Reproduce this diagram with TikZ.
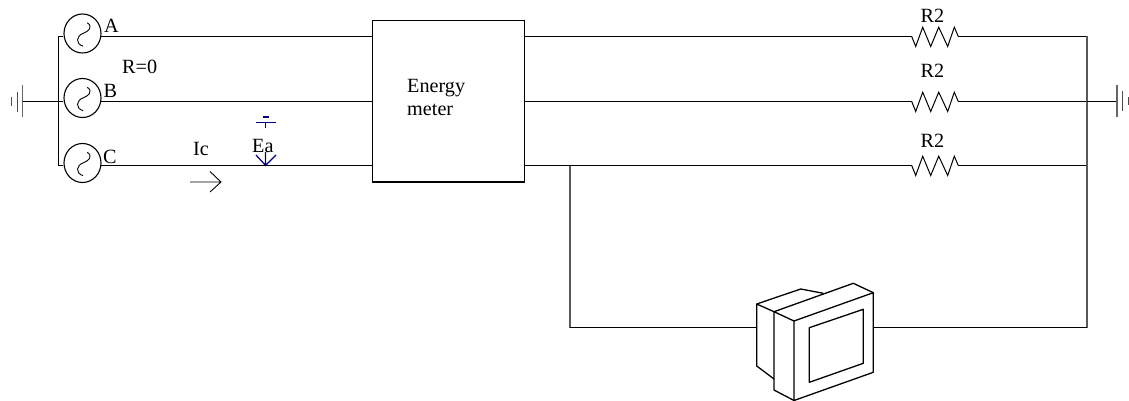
\documentclass[tikz,border=0pt]{standalone}
\usepackage{fontspec}
\setmainfont{Liberation Serif}
\definecolor{navyc}{RGB}{0,0,128}
\usetikzlibrary{shapes.geometric,calc}
\tikzset{
  wire/.style={draw=black,line width=1pt},
  greyline/.style={draw=black!65,line width=1.3pt},
  earthbar/.style={draw=black!60,line width=1.4pt},
  source/.style={draw=black,line width=1.1pt,ellipse,minimum width=37pt,minimum height=39pt,inner sep=0pt},
  lab/.style={font=\fontsize{20.2}{23.5}\selectfont,inner sep=0pt,anchor=base west},
  blue/.style={draw=navyc,line width=1.2pt},
  mon/.style={draw=black,line width=1.3pt,line join=round},
}
\newcommand{\sinewave}[1]{\draw[wire,line width=0.9pt] ($(#1)+(4.8,-10.7)$) .. controls ($(#1)+(11,-6.5)$) and ($(#1)+(6,-2)$) .. ($(#1)+(0.3,0)$) .. controls ($(#1)+(-6,2.5)$) and ($(#1)+(-7.5,10)$) .. ($(#1)+(0.5,12.7)$);}
\newcommand{\resistor}[1]{\draw[wire,line join=miter] ($(#1)+(-20.5,0)$) -- ++(4,10) -- ++(7,-19.3) -- ++(8,19.3) -- ++(8,-19.3) -- ++(9,19.3) -- ++(6.6,-19.3) -- ++(4,9.3);}
\begin{document}
\begin{tikzpicture}[x=1pt,y=-1pt]
\useasboundingbox (0,0) rectangle (1129,401);
% meter
\node[draw=black,line width=1.3pt,minimum width=152pt,minimum height=161.5pt,inner sep=0pt] (meter) at (448.5,101.2) {};
\node[lab] (mt1) at (407,92.7) {Energy};
\node[lab] (mt2) at (407,116) {meter};
% sources
\node[source] (sa) at (82.5,33.5) {};
\node[source] (sb) at (82.5,98) {};
\node[source] (sc) at (82.5,163) {};
\sinewave{sa}\sinewave{sb}\sinewave{sc}
\node[lab] (la) at (104,33) {A};
\node[lab] (lb) at (103.5,98) {B};
\node[lab] (lc) at (103,163) {C};
\node[lab] (lr) at (122,74) {R=0};
\node[lab] (li) at (193,155) {Ic};
% wire rows
\coordinate (ra) at (932.2,36.5);
\coordinate (rb) at (932.2,101.5);
\coordinate (rc) at (932.2,165.5);
% left bus and earth
\coordinate (busLt) at (58.5,36.5);
\coordinate (busLm) at (58.5,101.5);
\coordinate (busLb) at (58.5,165.5);
\draw[wire] (sa.west |- busLt) -- (busLt) -- (busLb) -- (sc.west |- busLb);
\draw[wire] (sb.west |- busLm) -- (busLm);
\coordinate (earthL) at (22.7,101.5);
\draw[wire] (busLm) -- (earthL);
\draw[earthbar] (22.7,85) -- (22.7,117.5);
\draw[wire,draw=black!70] (17.3,92) -- (17.3,111.7);
\draw[wire,draw=black!70] (11.7,96.7) -- (11.7,105.7);
% feeder lines to meter
\draw[wire] ($(sa.east |- ra)+(-0.5,0)$) -- (meter.west |- ra);
\draw[wire] ($(sb.east |- rb)+(-0.5,0)$) -- (meter.west |- rb);
\draw[wire] ($(sc.east |- rc)+(-0.5,0)$) -- (meter.west |- rc);
\coordinate (ic1) at (174,165.5);
\coordinate (ic2) at (236,165.5);
\draw[line width=1.4pt] (ic1) -- (ic2);
% current arrow
\coordinate (arS) at (190,182);
\coordinate (arE) at (221,182);
\draw[wire,line width=0.9pt] (arS) -- (arE) (210,171.5) -- (arE) -- (210,192);
% Ea
\node[lab] (lea) at (252,152) {Ea};
\coordinate (eaTip) at (265.6,165.5);
\draw[blue] (265.5,152) -- (eaTip) (256,155) -- (eaTip) -- (276,155);
\draw[blue] (265.5,122.7) -- (265.5,128.5);
\draw[blue] (256,122.7) -- (276,122.7);
\draw[blue] (262.5,117) -- (268.5,117);
% resistors
\resistor{ra}\resistor{rb}\resistor{rc}
\node[lab] (l1) at (920.5,22.7) {R2};
\node[lab] (l2) at (920.5,77.7) {R2};
\node[lab] (l3) at (920.5,147.7) {R2};
% outputs
\coordinate (busRt) at (1087,36.5);
\coordinate (busRm) at (1087,101.5);
\coordinate (busRb) at (1087,165.5);
\coordinate (busRe) at (1087,327.5);
\draw[wire] (meter.east |- ra) -- ($(ra)+(-20.5,0)$);
\draw[wire] (meter.east |- rb) -- ($(rb)+(-20.5,0)$);
\draw[wire] (meter.east |- rc) -- ($(rc)+(-20.5,0)$);
\draw[wire] ($(ra)+(26.1,0)$) -- (busRt);
\draw[wire] ($(rb)+(26.1,0)$) -- (busRm);
\draw[wire] ($(rc)+(26.1,0)$) -- (busRb);
\draw[greyline] (busRt) -- (busRe);
\coordinate (earthR) at (1117,101.5);
\draw[wire] (busRm) -- (earthR);
\draw[earthbar] (1117,85) -- (1117,117.5);
\draw[wire,draw=black!70] (1122.4,91) -- (1122.4,111);
\draw[wire,draw=black!70] (1128,97) -- (1128,105);
% monitor branch
\coordinate (tap) at (570,165.5);
\coordinate (corner) at (570,327.5);
\coordinate (monL) at (756.7,327.5);
\coordinate (monR) at (873.3,327.5);
\draw[greyline] (tap) -- (corner);
\draw[wire] (corner) -- (monL);
\draw[wire] (monR) -- (busRe);
% monitor
\draw[mon] (794,321) -- (873.3,292.7) -- (873.3,372.3) -- (794,400.5) -- cycle;
\draw[mon] (809.3,327.7) -- (863.3,309.3) -- (863.3,363.3) -- (809.3,382.3) -- cycle;
\draw[mon] (794,321) -- (774,311.7) -- (853.3,283.3) -- (873.3,292.7);
\draw[mon] (774,311.7) -- (774,390) -- (794,400.5);
\draw[mon] (774,311.7) -- (756.7,304) -- (756.7,366) -- (774,379);
\draw[mon] (756.7,304) -- (800.7,289) -- (823.3,293.3);
\end{tikzpicture}
\end{document}
